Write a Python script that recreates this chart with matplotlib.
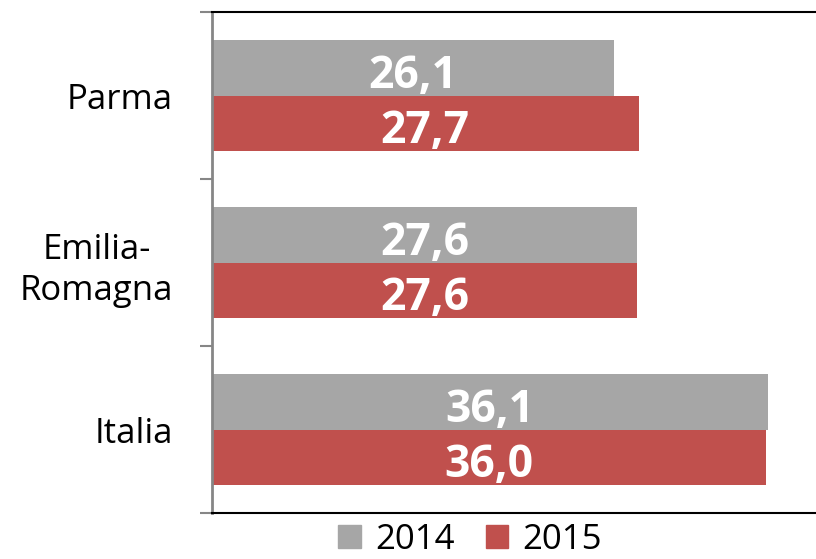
import matplotlib
matplotlib.use("Agg")
import matplotlib.pyplot as plt
from matplotlib.patches import Patch

# data
categories = ["Parma", "Emilia-\nRomagna", "Italia"]
years = ["2014", "2015"]
values_2014 = [26.1, 27.6, 36.1]
values_2015 = [27.7, 27.6, 36.0]
colors = ["#A6A6A6", "#C0504D"]

plt.rcParams["font.family"] = ["Open Sans", "DejaVu Sans"]

fig = plt.figure(figsize=(8.16, 5.59), dpi=100)
ax = fig.add_axes([212 / 816, 1 - 513 / 559, 616 / 816, 501 / 559])

bar_h = 0.335
pos = list(range(len(categories)))
series = [values_2014, values_2015]
for k, (vals, col) in enumerate(zip(series, colors)):
    offs = (k - 0.5) * bar_h
    ypos = [p + offs for p in pos]
    ax.barh(ypos, vals, height=bar_h, color=col, label=years[k])
    for y, v in zip(ypos, vals):
        ax.annotate(f"{v:.1f}".replace(".", ","), (v / 2, y),
                    xytext=(0, -14.4), textcoords="offset points",
                    ha="center", va="baseline", color="white",
                    fontsize=32, fontweight="bold")

ax.set_xlim(0, 40)
ax.set_ylim(2.5, -0.5)
ax.set_xticks([])

ax.set_yticks(pos)
ax.set_yticklabels(categories, fontsize=25, multialignment="center", linespacing=1.3)
ax.tick_params(axis="y", which="major", length=0, pad=28)
ax.set_yticks([-0.5, 0.5, 1.5, 2.5], minor=True)
ax.tick_params(axis="y", which="minor", length=9, width=1.5, color="#868686")

ax.spines["left"].set_color("#868686")
ax.spines["left"].set_linewidth(2)
ax.spines["top"].set_color("black")
ax.spines["top"].set_linewidth(1.5)
ax.spines["bottom"].set_color("black")
ax.spines["bottom"].set_linewidth(1.5)
ax.spines["right"].set_visible(False)

handles = [Patch(color=c, label=y) for c, y in zip(colors, years)]
fig.legend(handles=handles, loc="center", bbox_to_anchor=(470 / 816, 1 - 540 / 559),
           ncol=2, frameon=False, fontsize=25, handlelength=0.65, handleheight=0.65,
           handletextpad=0.4, columnspacing=0.9, borderpad=0, borderaxespad=0)

fig.savefig("out.png", dpi=100)
